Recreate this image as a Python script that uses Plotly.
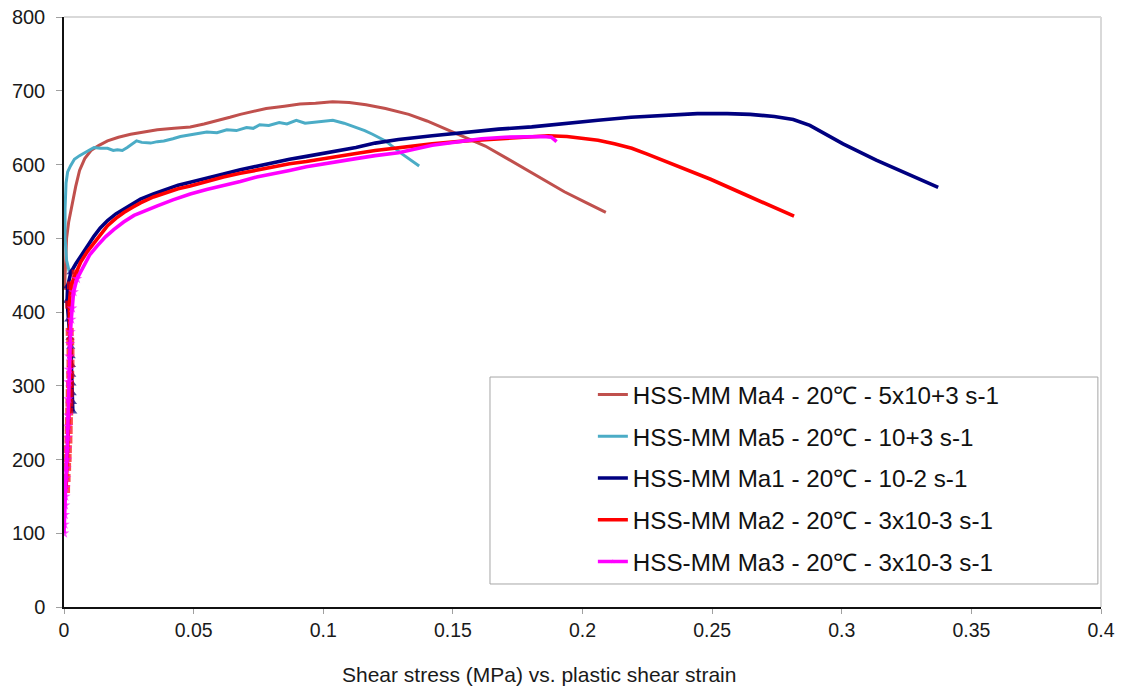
import plotly.graph_objects as go

# Shear stress (MPa) against plastic shear strain, HSS-MM specimens at 20 °C
ma4_x = [0.0002, 0.0005, 0.0010, 0.0018, 0.0030, 0.0045, 0.0060, 0.0080, 0.0104, 0.0135,
         0.0168, 0.0210, 0.0257, 0.0310, 0.0360, 0.0425, 0.0487, 0.0540, 0.0590, 0.0640,
         0.0680, 0.0730, 0.0780, 0.0850, 0.0910, 0.0970, 0.1036, 0.1100, 0.1165, 0.1240,
         0.1330, 0.1400, 0.1480, 0.1550, 0.1625, 0.1710, 0.1800, 0.1865, 0.1930, 0.2010, 0.2090]
ma4_y = [430, 470, 500, 522, 545, 570, 592, 608, 619, 626,
         632, 637, 641, 644, 647, 649, 651, 655, 659, 664,
         668, 672, 676, 679, 682, 683, 685, 684, 681, 676,
         668, 659, 647, 637, 625, 608, 590, 577, 563, 549, 535]

ma5_x = [0.0020, 0.0010, 0.0004, 0.0004, 0.0008, 0.0014, 0.0025, 0.0040, 0.0060, 0.0078,
         0.0100, 0.0116, 0.0140, 0.0168, 0.0190, 0.0206, 0.0225, 0.0244, 0.0262, 0.0280,
         0.0300, 0.0334, 0.0360, 0.0385, 0.0420, 0.0449, 0.0500, 0.0551, 0.0590, 0.0628,
         0.0665, 0.0704, 0.0730, 0.0755, 0.0790, 0.0830, 0.0860, 0.0896, 0.0930, 0.0960,
         0.1000, 0.1037, 0.1080, 0.1126, 0.1160, 0.1190, 0.1240, 0.1305, 0.1370]
ma5_y = [455, 470, 500, 540, 575, 590, 598, 607, 612, 616,
         620, 623, 622, 622, 619, 620, 619, 623, 628, 632,
         630, 629, 631, 632, 635, 638, 641, 644, 643, 647,
         646, 650, 649, 654, 653, 657, 655, 660, 656, 657,
         658, 660, 656, 650, 646, 641, 632, 614, 598]

ma1_x = [0.0034, 0.0033, 0.0032, 0.0031, 0.0030, 0.0029, 0.0028, 0.0026, 0.0023, 0.0018,
         0.0012, 0.0014, 0.0027, 0.0045, 0.0065, 0.0090, 0.0116, 0.0140, 0.0168, 0.0200,
         0.0231, 0.0265, 0.0295, 0.0345, 0.0398, 0.0440, 0.0487, 0.0550, 0.0615, 0.0680,
         0.0743, 0.0805, 0.0870, 0.0935, 0.0998, 0.1060, 0.1126, 0.1200, 0.1290, 0.1420,
         0.1548, 0.1676, 0.1804, 0.1932, 0.2060, 0.2187, 0.2315, 0.2443, 0.2558, 0.2647,
         0.2740, 0.2813, 0.2877, 0.3005, 0.3133, 0.3260, 0.3372]
ma1_y = [265, 278, 290, 303, 315, 328, 340, 353, 365, 390,
         415, 435, 454, 465, 476, 490, 503, 514, 524, 533,
         540, 547, 553, 560, 567, 572, 576, 582, 587, 593,
         598, 602, 607, 611, 615, 619, 623, 629, 634, 639,
         644, 648, 651, 656, 660, 664, 667, 669, 669, 668,
         665, 661, 653, 628, 606, 587, 569]

ma2_x = [0.0008, 0.0010, 0.0012, 0.0014, 0.0015, 0.0017, 0.0018, 0.0019, 0.0020, 0.0021,
         0.0022, 0.0023, 0.0024, 0.0025, 0.0025, 0.0024, 0.0022, 0.0020, 0.0027, 0.0045,
         0.0065, 0.0090, 0.0116, 0.0140, 0.0168, 0.0200, 0.0231, 0.0265, 0.0295, 0.0345,
         0.0398, 0.0440, 0.0487, 0.0550, 0.0615, 0.0680, 0.0743, 0.0805, 0.0870, 0.0935,
         0.0998, 0.1060, 0.1126, 0.1200, 0.1290, 0.1420, 0.1550, 0.1676, 0.1780, 0.1868,
         0.1940, 0.1995, 0.2060, 0.2123, 0.2190, 0.2250, 0.2315, 0.2379, 0.2494, 0.2622,
         0.2720, 0.2816]
ma2_y = [160, 175, 190, 202, 214, 227, 240, 252, 265, 277,
         290, 302, 315, 330, 345, 360, 373, 410, 436, 452,
         468, 482, 494, 506, 517, 527, 535, 542, 548, 556,
         562, 567, 571, 577, 583, 588, 592, 597, 601, 604,
         608, 612, 615, 619, 623, 628, 632, 635, 638, 639,
         638, 636, 633, 628, 622, 614, 605, 596, 580, 560,
         545, 530]

ma3_x = [0.0000, 0.0002, 0.0003, 0.0004, 0.0005, 0.0006, 0.0008, 0.0009, 0.0011, 0.0012,
         0.0014, 0.0015, 0.0016, 0.0017, 0.0018, 0.0020, 0.0021, 0.0023, 0.0025, 0.0028,
         0.0031, 0.0037, 0.0050, 0.0078, 0.0100, 0.0129, 0.0160, 0.0193, 0.0230, 0.0270,
         0.0315, 0.0360, 0.0420, 0.0487, 0.0550, 0.0615, 0.0680, 0.0743, 0.0805, 0.0870,
         0.0935, 0.0998, 0.1060, 0.1126, 0.1200, 0.1290, 0.1420, 0.1520, 0.1610, 0.1700,
         0.1804, 0.1850, 0.1880, 0.1900]
ma3_y = [100, 112, 125, 138, 150, 162, 175, 188, 200, 215,
         230, 245, 260, 282, 305, 322, 340, 357, 373, 390,
         405, 427, 445, 463, 478, 490, 502, 512, 522, 531,
         538, 544, 552, 560, 566, 571, 577, 583, 588, 592,
         597, 601, 605, 608, 612, 616, 626, 631, 635, 637,
         638, 638, 637, 631]

series = [
    ("HSS-MM Ma4 - 20℃ - 5x10+3 s-1", ma4_x, ma4_y, "#C0504D", None),
    ("HSS-MM Ma5 - 20℃ - 10+3 s-1", ma5_x, ma5_y, "#4BACC6", None),
    ("HSS-MM Ma1 - 20℃ - 10-2 s-1", ma1_x, ma1_y, "#000080", "triangle-up"),
    ("HSS-MM Ma2 - 20℃ - 3x10-3 s-1", ma2_x, ma2_y, "#FF0000", "square"),
    ("HSS-MM Ma3 - 20℃ - 3x10-3 s-1", ma3_x, ma3_y, "#FF00FF", "star"),
]

fig = go.Figure()
for i, (name, xs, ys, color, symbol) in enumerate(series):
    if symbol:
        # markers stand out on the steep elastic rise, where samples are sparse
        sizes = [8 if v < 460 else 0 for v in ys]
        fig.add_trace(go.Scatter(
            x=xs, y=ys, name=name, mode="lines+markers", legendgroup=f"g{i}",
            line=dict(color=color, width=3.6),
            marker=dict(symbol=symbol, size=sizes, color=color, line=dict(width=0)),
        ))
    else:
        fig.add_trace(go.Scatter(
            x=xs, y=ys, name=name, mode="lines", legendgroup=f"g{i}",
            line=dict(color=color, width=3),
        ))

font_family = "Liberation Sans, Arial, sans-serif"

fig.update_layout(
    width=1122, height=690,
    margin=dict(l=64, r=21, t=17, b=83),
    paper_bgcolor="white", plot_bgcolor="white",
    font=dict(family=font_family, color="#1a1a1a"),
    showlegend=True,
    legend=dict(
        x=0.510, y=0.398, xanchor="left", yanchor="top",
        bgcolor="rgba(0,0,0,0)", borderwidth=0,
        font=dict(size=24.2, family=font_family, color="#111111"),
        itemwidth=30, tracegroupgap=7.3,
    ),
    xaxis=dict(
        range=[0, 0.4], tickvals=[0, 0.05, 0.1, 0.15, 0.2, 0.25, 0.3, 0.35, 0.4],
        ticktext=["0", "0.05", "0.1", "0.15", "0.2", "0.25", "0.3", "0.35", "0.4"],
        showgrid=False, zeroline=False, showline=True, linecolor="#111111", linewidth=2,
        ticks="outside", ticklen=5, tickcolor="#a0a0a0", tickwidth=1,
        tickfont=dict(size=19.5, color="#1a1a1a"), automargin=False,
    ),
    yaxis=dict(
        range=[0, 800], tickvals=[0, 100, 200, 300, 400, 500, 600, 700, 800],
        showgrid=False, zeroline=False, showline=True, linecolor="#111111", linewidth=1.5,
        ticks="outside", ticklen=6, tickcolor="#a0a0a0", tickwidth=1,
        tickfont=dict(size=20, color="#1a1a1a"), automargin=False,
        ticklabelstandoff=7,
    ),
    shapes=[
        # light frame on the top and right of the plot area
        dict(type="line", xref="paper", yref="paper", x0=0, x1=1, y0=1, y1=1,
             line=dict(color="#d9d9d9", width=2)),
        dict(type="line", xref="paper", yref="paper", x0=1, x1=1, y0=0, y1=1,
             line=dict(color="#d9d9d9", width=2)),
        # legend box
        dict(type="rect", xref="paper", yref="paper", x0=0.4108, x1=0.997, y0=0.039, y1=0.3898,
             line=dict(color="#a6a6a6", width=1), fillcolor="rgba(0,0,0,0)"),
    ],
    annotations=[
        dict(text="Shear stress (MPa) vs. plastic shear strain", xref="paper", yref="paper",
             x=0.458, y=-0.115, xanchor="center", yanchor="middle", showarrow=False,
             font=dict(size=21, family=font_family, color="#1a1a1a")),
    ],
)

fig.write_html("out.html")
